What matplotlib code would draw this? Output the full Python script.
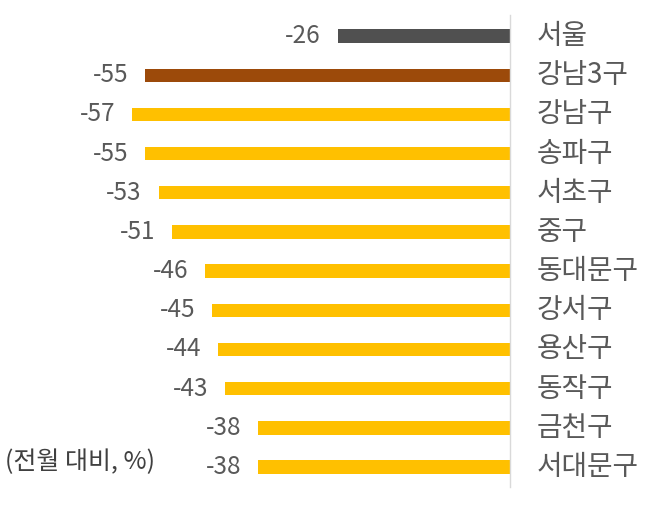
import matplotlib.pyplot as plt

plt.rcParams['font.family'] = ['Noto Sans CJK KR', 'DejaVu Sans']

regions = ['서울', '강남3구', '강남구', '송파구', '서초구', '중구',
           '동대문구', '강서구', '용산구', '동작구', '금천구', '서대문구']
changes = [-26, -55, -57, -55, -53, -51, -46, -45, -44, -43, -38, -38]
bar_colors = ['#505050', '#9C4A0A'] + ['#FFC000'] * 10

text_col = '#595959'

fig = plt.figure(figsize=(6.48, 5.05), dpi=100)
ax = fig.add_axes([0.0, 0.0356, 510 / 648, 0.935])

y = list(range(len(regions)))
ax.barh(y, changes, height=0.34, color=bar_colors)

for yi, v, name in zip(y, changes, regions):
    ax.annotate(f'{v}', xy=(v, yi), xytext=(-12, 0), textcoords='offset points',
                ha='right', va='center', fontsize=17.5, color=text_col)
    ax.annotate(name, xy=(0, yi), xytext=(19, 0), textcoords='offset points',
                ha='left', va='center', fontsize=20, color=text_col,
                annotation_clip=False)

ax.set_xlim(-76.9, 0)
ax.set_ylim(11.51, -0.54)

for s in ['top', 'left', 'bottom']:
    ax.spines[s].set_visible(False)
ax.spines['right'].set_color('#D9D9D9')
ax.spines['right'].set_linewidth(1)
ax.set_xticks([])
ax.set_yticks([])

fig.text(5 / 648, 1 - 462 / 505, '(전월 대비, %)', ha='left', va='center',
         fontsize=18, color='#404040')

fig.savefig('out.png', dpi=100)
